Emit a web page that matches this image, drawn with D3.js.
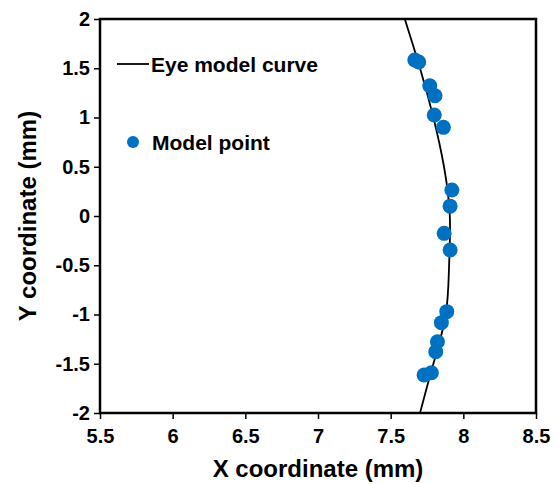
<!DOCTYPE html>
<html>
<head>
<meta charset="utf-8">
<script src="https://cdn.jsdelivr.net/npm/d3@7"></script>
<style>
  body { margin: 0; background: #fff; }
  text { font-family: "Liberation Sans", Arial, sans-serif; font-weight: bold; fill: #000; }
</style>
</head>
<body>
<script>
// eye model curve (x, y in mm)
const curveX = [7.702, 7.794, 7.879, 7.902, 7.907, 7.867, 7.794, 7.702, 7.597];
const curveY = [-2, -1.5, -1, -0.5, 0, 0.5, 1, 1.5, 2];

// model points
const pointX = [7.666, 7.693, 7.769, 7.805, 7.800, 7.863, 7.921, 7.909, 7.868, 7.909,
                7.886, 7.849, 7.822, 7.810, 7.780, 7.730];
const pointY = [1.584, 1.563, 1.323, 1.221, 1.025, 0.900, 0.264, 0.100, -0.176, -0.345,
                -0.971, -1.083, -1.276, -1.378, -1.591, -1.614];

const xTicks = [5.5, 6, 6.5, 7, 7.5, 8, 8.5];
const yTicks = [-2, -1.5, -1, -0.5, 0, 0.5, 1, 1.5, 2];

const width = 558, height = 484;
const margin = { top: 19, right: 22, bottom: 71, left: 100 };

const svg = d3.select('body').append('svg')
  .attr('width', width)
  .attr('height', height);

const x = d3.scaleLinear().domain([5.5, 8.5]).range([margin.left, width - margin.right]);
const y = d3.scaleLinear().domain([-2, 2]).range([height - margin.bottom, margin.top]);

const fmt = d => String(d);

// axes
const xAxis = svg.append('g')
  .attr('transform', `translate(0,${height - margin.bottom})`)
  .call(d3.axisBottom(x).tickValues(xTicks).tickFormat(fmt).tickSize(6).tickPadding(10));

const yAxis = svg.append('g')
  .attr('transform', `translate(${margin.left},0)`)
  .call(d3.axisLeft(y).tickValues(yTicks).tickFormat(fmt).tickSize(6).tickPadding(4));

for (const g of [xAxis, yAxis]) {
  g.select('.domain').remove();
  g.selectAll('.tick line').attr('stroke', '#000').attr('stroke-width', 1.5);
  g.selectAll('.tick text').style('font-size', '20px');
}

// frame
svg.append('rect')
  .attr('x', x(5.5)).attr('y', y(2))
  .attr('width', x(8.5) - x(5.5)).attr('height', y(-2) - y(2))
  .attr('fill', 'none').attr('stroke', '#000').attr('stroke-width', 2.5);

// curve
const line = d3.line()
  .x(i => x(curveX[i]))
  .y(i => y(curveY[i]))
  .curve(d3.curveNatural);

svg.append('path')
  .attr('d', line(d3.range(curveX.length)))
  .attr('fill', 'none')
  .attr('stroke', '#000')
  .attr('stroke-width', 1.8);

// points
svg.append('g').selectAll('circle')
  .data(d3.range(pointX.length))
  .join('circle')
  .attr('cx', i => x(pointX[i]))
  .attr('cy', i => y(pointY[i]))
  .attr('r', 7.5)
  .attr('fill', '#0070C0');

// axis titles
svg.append('text')
  .attr('x', (x(5.5) + x(8.5)) / 2)
  .attr('y', 477)
  .attr('text-anchor', 'middle')
  .style('font-size', '24px')
  .text('X coordinate  (mm)');

svg.append('text')
  .attr('transform', `translate(36,${(y(2) + y(-2)) / 2}) rotate(-90)`)
  .attr('text-anchor', 'middle')
  .style('font-size', '24px')
  .text('Y coordinate  (mm)');

// legend
const legend = svg.append('g');
legend.append('line')
  .attr('x1', 117).attr('x2', 149)
  .attr('y1', 64).attr('y2', 64)
  .attr('stroke', '#000').attr('stroke-width', 1.8);
legend.append('text')
  .attr('x', 151).attr('y', 72)
  .style('font-size', '21px')
  .text('Eye model curve');
legend.append('circle')
  .attr('cx', 133).attr('cy', 142).attr('r', 6)
  .attr('fill', '#0070C0');
legend.append('text')
  .attr('x', 152).attr('y', 150)
  .style('font-size', '21px')
  .text('Model point');
</script>
</body>
</html>
